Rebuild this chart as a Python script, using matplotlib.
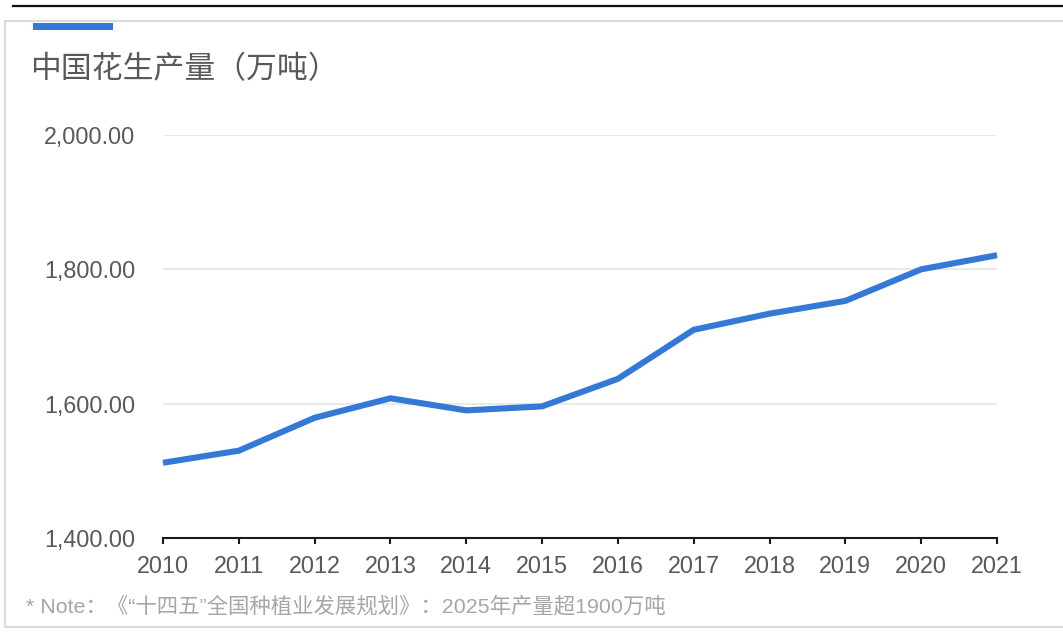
import matplotlib
matplotlib.use("Agg")
import matplotlib.pyplot as plt
from matplotlib.patches import Rectangle
from matplotlib.lines import Line2D
from matplotlib.ticker import FuncFormatter

plt.rcParams['font.family'] = ['Liberation Sans', 'Noto Sans CJK SC', 'DejaVu Sans']

# 数据
years = [2010, 2011, 2012, 2013, 2014, 2015, 2016, 2017, 2018, 2019, 2020, 2021]
output = [1512, 1530, 1579, 1608, 1590, 1596, 1637, 1710, 1734, 1753, 1800, 1821]
y_ticks = [1400, 1600, 1800, 2000]

title = "中国花生产量（万吨）"
note = "* Note：《“十四五”全国种植业发展规划》：2025年产量超1900万吨"

W, H = 1063, 634
fig = plt.figure(figsize=(W / 100, H / 100), dpi=100)

# 外框和装饰
fig.add_artist(Rectangle((5 / W, 1 - 627 / H), 1.2, (627 - 21) / H, transform=fig.transFigure,
                         fill=False, edgecolor='#dadada', linewidth=1.5))
fig.add_artist(Line2D([13 / W, 1], [1 - 6 / H, 1 - 6 / H], transform=fig.transFigure,
                      color='#111111', linewidth=1.6))
fig.add_artist(Rectangle((33 / W, 1 - 29.5 / H), 80 / W, 6.5 / H, transform=fig.transFigure,
                         facecolor='#3579d6', edgecolor='none'))

fig.text(30 / W, 1 - 70 / H, title, fontsize=22.2, color='#595959', va='center', ha='left',
         family=['Noto Sans CJK SC', 'DejaVu Sans'])
fig.text(26 / W, 1 - 606 / H, note, fontsize=15.4, color='#a6a6a6', va='center', ha='left')

ax = fig.add_axes([163 / W, 1 - 538 / H, (997 - 163) / W, (538 - 135) / H])
ax.plot(years, output, color='#3579d6', linewidth=4.4, solid_capstyle='butt',
        solid_joinstyle='round', clip_on=False, zorder=3)

ax.set_xlim(years[0], years[-1])
ax.set_ylim(y_ticks[0], y_ticks[-1])
ax.set_xticks(years)
ax.set_yticks(y_ticks)
ax.yaxis.set_major_formatter(FuncFormatter(lambda v, p: f"{v:,.2f}"))

for y in y_ticks[1:]:
    ax.axhline(y, color='#e3e3e3', linewidth=1.1, zorder=1)

for s in ['left', 'right', 'top']:
    ax.spines[s].set_visible(False)
ax.spines['bottom'].set_color('#1a1a1a')
ax.spines['bottom'].set_linewidth(1.5)

ax.tick_params(axis='y', length=0, pad=20, labelsize=16.8, labelcolor='#595959')
ax.tick_params(axis='x', direction='out', length=4.5, width=1.5, color='#1a1a1a',
               pad=8, labelsize=16.8, labelcolor='#595959')

fig.savefig("out.png", dpi=100)
